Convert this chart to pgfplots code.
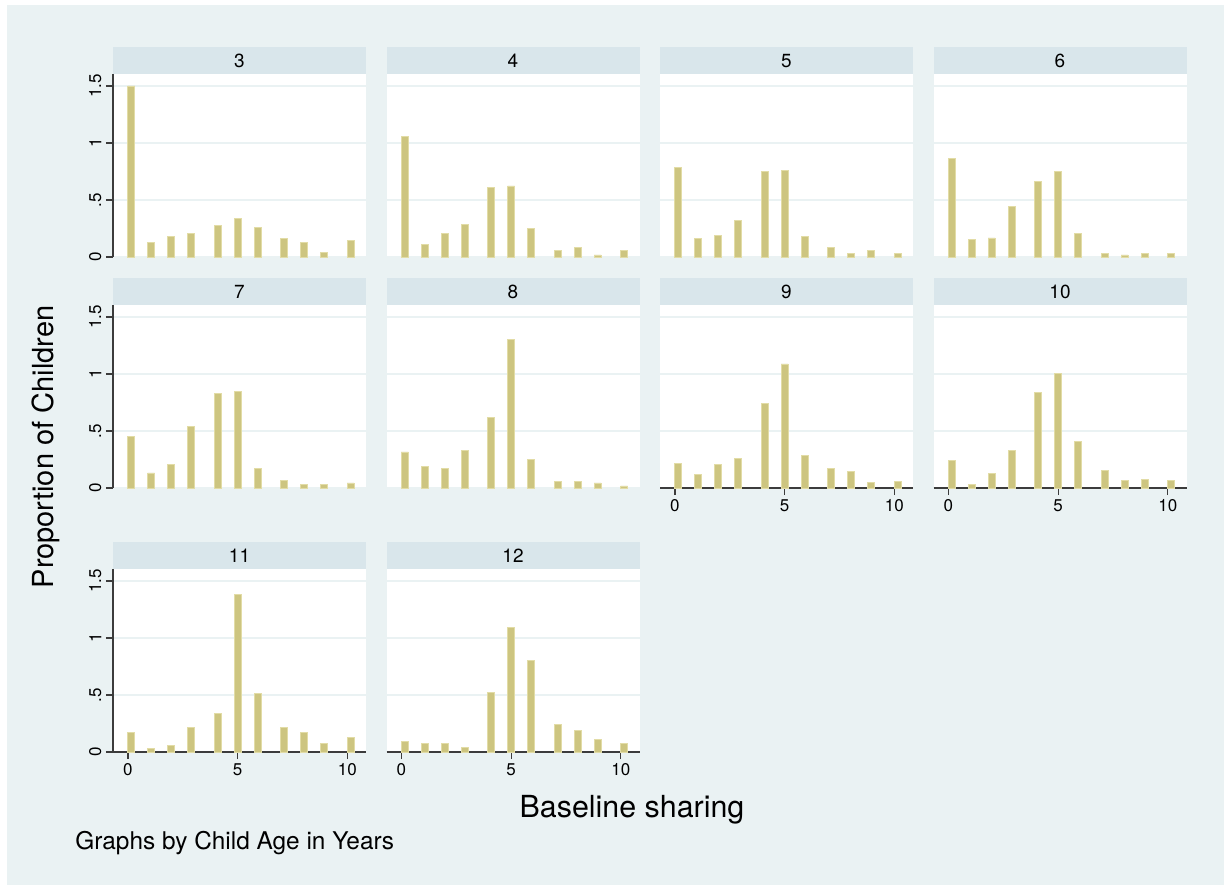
\documentclass[border=0pt]{standalone}
\usepackage{pgfplots}
\pgfplotsset{compat=1.18}
\usepackage{pgfplotstable}
\usepackage{fontspec}
\setmainfont{TeX Gyre Heros}

\definecolor{graphbg}{HTML}{EAF2F3}
\definecolor{stripc}{HTML}{D9E6EB}
\definecolor{barfill}{HTML}{CDC580}
\definecolor{baredge}{HTML}{E2DCA6}
\definecolor{axisc}{HTML}{3C3C3C}

% Density of baseline sharing by child age (bins of width 10/33)
\pgfplotstableread{
x        a3    a4    a5    a6    a7    a8    a9    a10   a11   a12
0.1515   1.500 1.056 0.787 0.865 0.453 0.316 0.219 0.243 0.173 0.094
1.0606   0.130 0.111 0.164 0.155 0.132 0.187 0.120 0.035 0.032 0.076
1.9697   0.180 0.205 0.190 0.167 0.208 0.170 0.205 0.126 0.061 0.076
2.8788   0.210 0.284 0.322 0.442 0.541 0.327 0.260 0.333 0.219 0.038
4.0909   0.275 0.611 0.749 0.664 0.825 0.617 0.743 0.842 0.342 0.523
5.0000   0.336 0.623 0.760 0.751 0.848 1.304 1.088 1.006 1.383 1.096
5.9091   0.257 0.254 0.178 0.205 0.170 0.249 0.289 0.406 0.515 0.801
7.1212   0.164 0.058 0.085 0.032 0.067 0.056 0.173 0.152 0.219 0.243
8.0303   0.130 0.085 0.032 0.018 0.032 0.056 0.146 0.064 0.175 0.187
8.9394   0.040 0.018 0.058 0.032 0.032 0.044 0.047 0.079 0.079 0.111
10.1515  0.146 0.058 0.032 0.032 0.044 0.018 0.061 0.064 0.126 0.076
}\data

\pgfplotsset{
  panel/.style={
    scale only axis, width=126.5pt, height=91.5pt,
    anchor=south west,
    xmin=-0.68, xmax=10.85, ymin=0, ymax=1.605,
    axis background/.style={fill=white},
    axis x line*=bottom, axis y line*=left,
    axis line style={draw=axisc, line width=0.6pt},
    xtick={0,5,10}, ytick={0,0.5,1,1.5},
    tick align=outside, major tick length=3.6pt,
    every tick/.style={draw=axisc, line width=0.6pt},
    ymajorgrids, major grid style={draw=graphbg, line width=0.8pt},
    tick label style={font=\fontsize{8.5}{10}\selectfont, text=black},
    yticklabels={,,,}, xticklabels={,,},
    y axis line style={draw=none}, x axis line style={draw=none},
    ytick style={draw=none}, xtick style={draw=none},
    clip=false,
  },
  showy/.style={
    y axis line style={draw=axisc},
    ytick style={draw=axisc, line width=0.6pt},
    yticklabels={0,.5,1,1.5},
    yticklabel style={rotate=90, anchor=south, inner sep=2pt},
  },
  showx/.style={
    x axis line style={draw=axisc},
    xtick style={draw=axisc, line width=0.6pt},
    xticklabels={0,5,10},
    xticklabel style={anchor=north, inner sep=2pt},
  },
  bars/.style={
    ybar, bar shift=0pt, bar width=0.32,
    fill=barfill, draw=baredge, line width=0.45pt,
  },
}

% One panel: #1 age, #2 x, #3 y of lower left corner, #4 extra axis options
\newcommand{\panel}[4]{%
  \begin{axis}[panel, name=p#1, at={(#2pt,#3pt)}, #4]
    \addplot[bars] table[x=x, y=a#1] {\data};
  \end{axis}
  \fill[stripc] (p#1.north west) rectangle ([yshift=13.3pt]p#1.north east);
  \node[font=\fontsize{9.5}{11}\selectfont, inner sep=0pt]
    at ([yshift=6.6pt]p#1.north) {#1};
}

\begin{document}
\begin{tikzpicture}
  % page and graph region
  \fill[white] (0pt,0pt) rectangle (615.5pt,-445pt);
  \fill[graphbg] (3.5pt,-2.5pt) rectangle (612pt,-442.5pt);

  \panel{3}{56.5}{-128.5}{showy}
  \panel{4}{193.25}{-128.5}{}
  \panel{5}{330}{-128.5}{}
  \panel{6}{466.75}{-128.5}{}

  \panel{7}{56.5}{-244}{showy}
  \panel{8}{193.25}{-244}{}
  \panel{9}{330}{-244}{showx}
  \panel{10}{466.75}{-244}{showx}

  \panel{11}{56.5}{-376}{showy, showx}
  \panel{12}{193.25}{-376}{showx}

  \node[font=\fontsize{14.5}{17}\selectfont, rotate=90]
    at (23pt,-223.5pt) {Proportion of Children};
  \node[font=\fontsize{15.2}{18}\selectfont]
    at (316pt,-405pt) {Baseline sharing};
  \node[font=\fontsize{12.2}{14}\selectfont, anchor=west, inner sep=0pt]
    at (37.5pt,-421.5pt) {Graphs by Child Age in Years};
\end{tikzpicture}
\end{document}
